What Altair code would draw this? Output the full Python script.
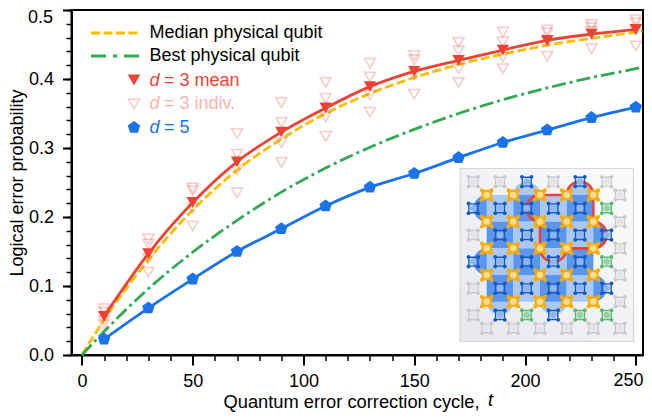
import math
import altair as alt
import pandas as pd

# ---- values ----
cycles = [10, 30, 50, 70, 90, 110, 130, 150, 170, 190, 210, 230, 250]
d3_mean = [.056, .147, .221, .280, .323, .358, .389, .411, .427, .442, .456, .465, .472]
d5_mean = [.023, .068, .110, .150, .183, .216, .243, .263, .286, .308, .326, .344, .359]
d3_a = [.067, .168, .242, .321, .366, .395, .423, .434, .453, .468, .471, .479, .486]
d3_b = [.062, .161, .238, .291, .337, .372, .403, .428, .441, .454, .467, .474, .481]
d3_c = [.050, .140, .213, .268, .308, .345, .377, .406, .415, .432, .454, .469, .471]
d3_d = [.044, .120, .187, .235, .279, .317, .352, .378, .395, .415, .433, .444, .448]
curve_t = [0, 10, 30, 50, 70, 90, 110, 130, 150, 170, 190, 210, 230, 250, 253]
median_q = [0, .051, .138, .210, .268, .313, .350, .379, .402, .421, .436, .449, .459, .468, .4695]
best_q = [0, .034, .096, .149, .195, .236, .271, .301, .327, .350, .370, .387, .402, .415, .417]

RED, BLUE, YELLOW, GREEN = "#EA4335", "#1A73E8", "#FBBC04", "#34A853"
PALE = "#F9B4AE"
FONT = "Liberation Sans"
FS = 18

# qubit lattice of the inset: (column, row); data qubits on integers, measure on half-integers
data_q = [(c, r) for r in range(5) for c in range(5)]
blue_q = [(1.5, -.5), (3.5, -.5),
          (-.5, .5), (.5, .5), (1.5, .5), (2.5, .5), (3.5, .5),
          (.5, 1.5), (1.5, 1.5), (2.5, 1.5), (3.5, 1.5), (4.5, 1.5),
          (-.5, 2.5), (.5, 2.5), (1.5, 2.5), (2.5, 2.5), (3.5, 2.5),
          (.5, 3.5), (1.5, 3.5), (2.5, 3.5), (3.5, 3.5), (4.5, 3.5),
          (.5, 4.5), (2.5, 4.5)]
green_q = [(4.5, .5), (4.5, 2.5), (1.5, 4.5), (3.5, 4.5), (4.5, 4.5)]
grey_q = [(-.5, -.5), (.5, -.5), (2.5, -.5), (4.5, -.5),
          (-.5, 1.5), (-.5, 3.5), (-.5, 4.5),
          (5, 0), (5, 1), (5, 2), (5, 3), (5, 4), (5, 5),
          (0, 5), (1, 5), (2, 5), (3, 5), (4, 5)]
bumps_light = [(1.5, 0), (3.5, 0), (.5, 4), (2.5, 4)]
bumps_dark = [(0, .5), (0, 2.5), (4, 1.5), (4, 3.5)]

# ---- geometry ----
W, H = 571.5, 345
XD = [-4.7, 253.24]
YD = [0, .5]
def X(px): return XD[0] + (px - 71.5) / W * (XD[1] - XD[0])
def Y(py): return YD[1] - (py - 10) / H * (YD[1] - YD[0])
CELL = 26.67
def GX(c): return X(486.67 + c * CELL)
def GY(r): return Y(195 + r * CELL)

xs = alt.Scale(domain=XD, nice=False, zero=False)
ys = alt.Scale(domain=YD, nice=False, zero=False)
ex = alt.X("x:Q", scale=xs, axis=None)
ey = alt.Y("y:Q", scale=ys, axis=None)

def frame(xv, yv, **kw):
    return pd.DataFrame({"x": xv, "y": yv, **kw})

layers = []

# axes
ax_layer = alt.Chart(frame([0], [0])).mark_point(opacity=0)
layers.append(ax_layer.encode(
    x=alt.X("x:Q", scale=xs, axis=alt.Axis(
        values=[0, 50, 100, 150, 200, 250], orient="bottom", title="Quantum error correction cycle,",
        labelExpr="datum.value > 240 ? '' : format(datum.value, 'd')",
        titleX=151.5, titleY=52, titleAlign="left", titleBaseline="alphabetic", titleFont=FONT, titleFontSize=18.3,
        titleFontWeight="normal", titleColor="black", labelFont=FONT, labelFontSize=FS, labelColor="black",
        labelPadding=7, tickSize=10, tickWidth=2, tickColor="black", domainWidth=2, domainColor="black",
        grid=False, labelFlush=False)),
    y=alt.Y("y:Q", scale=ys, axis=alt.Axis(
        values=[0, .1, .2, .3, .4, .5], orient="left", title="Logical error probability",
        labelExpr="datum.value > 0.45 ? '' : format(datum.value, '.1f')",
        titleFont=FONT, titleFontSize=FS, titleFontWeight="normal", titleColor="black", titleX=-45,
        labelFont=FONT, labelFontSize=FS, labelColor="black", labelPadding=9,
        tickSize=9, tickWidth=2, tickColor="black", domainWidth=2, domainColor="black", grid=False))))
layers.append(ax_layer.encode(
    x=alt.X("x:Q", scale=xs, axis=alt.Axis(
        values=list(range(0, 251, 10)), orient="bottom", labels=False, title=None, domain=False,
        tickSize=5.5, tickWidth=1.5, tickColor="black", grid=False)),
    y=alt.Y("y:Q", scale=ys, axis=alt.Axis(
        values=[i / 50 for i in range(26)], orient="left", labels=False, title=None, domain=False,
        tickSize=5.5, tickWidth=1.5, tickColor="black", grid=False))))

# curves
layers.append(alt.Chart(frame(curve_t, median_q)).mark_line(
    color=YELLOW, strokeWidth=2.8, strokeDash=[9, 3.5], interpolate="monotone").encode(x=ex, y=ey))
layers.append(alt.Chart(frame(curve_t, best_q)).mark_line(
    color=GREEN, strokeWidth=2.8, strokeDash=[14, 4, 3, 4], interpolate="monotone").encode(x=ex, y=ey))
layers.append(alt.Chart(frame(cycles, d3_mean)).mark_line(
    color=RED, strokeWidth=2.8, interpolate="monotone").encode(x=ex, y=ey))
layers.append(alt.Chart(frame(cycles, d5_mean)).mark_line(
    color=BLUE, strokeWidth=2.8, interpolate="monotone").encode(x=ex, y=ey))

# individual points
indiv = pd.concat([frame(cycles, s) for s in (d3_a, d3_b, d3_c, d3_d)])
layers.append(alt.Chart(indiv).mark_point(
    shape="triangle-down", filled=False, stroke=RED, strokeOpacity=.4, strokeWidth=1.5, size=120).encode(x=ex, y=ey))
layers.append(alt.Chart(frame(cycles, d3_mean)).mark_point(
    shape="triangle-down", filled=True, fill=RED, stroke=RED, strokeWidth=0, opacity=1, size=155).encode(x=ex, y=ey))
PENT = "M0,-1.05L1,-0.32L0.62,0.85L-0.62,0.85L-1,-0.32Z"
layers.append(alt.Chart(frame(cycles, d5_mean)).mark_point(
    shape=PENT, filled=True, fill=BLUE, opacity=1, size=155).encode(x=ex, y=ey))

# legend
LX0, LX1, MX = X(91), X(139), X(134)
layers.append(alt.Chart(frame([LX0, LX1], [Y(33)] * 2)).mark_line(
    color=YELLOW, strokeWidth=2.8, strokeDash=[9, 3.5]).encode(x=ex, y=ey))
layers.append(alt.Chart(frame([LX0, LX1], [Y(56)] * 2)).mark_line(
    color=GREEN, strokeWidth=2.8, strokeDash=[15, 7, 4, 7]).encode(x=ex, y=ey))
layers.append(alt.Chart(frame([MX], [Y(80)])).mark_point(
    shape="triangle-down", filled=True, fill=RED, opacity=1, size=155).encode(x=ex, y=ey))
layers.append(alt.Chart(frame([MX], [Y(104)])).mark_point(
    shape="triangle-down", filled=False, stroke=RED, strokeOpacity=.4, strokeWidth=1.5, size=120).encode(x=ex, y=ey))
layers.append(alt.Chart(frame([MX], [Y(127.5)])).mark_point(
    shape=PENT, filled=True, fill=BLUE, opacity=1, size=155).encode(x=ex, y=ey))

def txt(px, py, s, color="black", italic=False, align="left"):
    return alt.Chart(frame([X(px)], [Y(py)], s=[s])).mark_text(
        font=FONT, fontSize=FS, align=align, baseline="middle", color=color,
        fontStyle="italic" if italic else "normal").encode(x=ex, y=ey, text="s:N")

layers += [txt(149.5, 33, "Median physical qubit"), txt(149.5, 56, "Best physical qubit")]
for py, col, tail in [(80.5, RED, "= 3 mean"), (104, PALE, "= 3 indiv."), (128, BLUE, "= 5")]:
    layers += [txt(149.5, py, "d", col, True), txt(164, py, tail, col)]
layers.append(txt(488, 401, "t", italic=True))
layers.append(txt(53, 17.5, "0.5", align="right"))
layers.append(txt(643.5, 381, "250", align="right"))

# inset panel
panel = pd.DataFrame({"x": [X(460)], "x2": [X(633.5)], "y": [Y(168.5)], "y2": [Y(341.5)]})
layers.append(alt.Chart(panel).mark_rect(
    fill=alt.Gradient(gradient="linear", x1=0, y1=1, x2=1, y2=0,
                      stops=[alt.GradientStop(color="#E6E8EC", offset=0),
                             alt.GradientStop(color="#FBFBFC", offset=1)]),
    stroke="#D6D7D9", strokeWidth=1.2).encode(x=ex, x2="x2:Q", y=ey, y2="y2:Q"))

DARK_C, LIGHT_C = "#5B95EE", "#AAC8F6"
BUMP = CELL ** 2
for pts, col in ((bumps_light, LIGHT_C), (bumps_dark, DARK_C)):
    layers.append(alt.Chart(frame([GX(c) for c, r in pts], [GY(r) for c, r in pts])).mark_point(
        shape="circle", filled=True, fill=col, opacity=1, size=BUMP).encode(x=ex, y=ey))

cells = []
for r in range(4):
    for c in range(4):
        cells.append({"x": GX(c), "x2": GX(c + 1), "y": GY(r), "y2": GY(r + 1),
                      "k": DARK_C if (r + c) % 2 else LIGHT_C})
layers.append(alt.Chart(pd.DataFrame(cells)).mark_rect(strokeWidth=0).encode(
    x=ex, x2="x2:Q", y=ey, y2="y2:Q", fill=alt.Fill("k:N", scale=None)))

# red outline of the d = 3 patch
path = []
def arc(cx, cy, a0, a1):
    for i in range(17):
        a = math.radians(a0 + (a1 - a0) * i / 16)
        path.append((cx + .5 * math.cos(a), cy + .5 * math.sin(a)))
path.append((2, 0)); path.append((3, 0))
arc(3.5, 0, 180, 360)
path.append((4, 1))
arc(4, 1.5, -90, 90)
path.append((3, 2))
arc(2.5, 2, 0, 180)
path.append((2, 1))
arc(2, .5, 90, 270)
red = frame([GX(c) for c, r in path], [GY(r) for c, r in path], o=list(range(len(path))))
layers.append(alt.Chart(red).mark_line(color=RED, strokeWidth=2.6, strokeJoin="round").encode(
    x=ex, y=ey, order="o:Q"))

# qubits
Q = 4.8 / CELL
def qubit(pts, edge, inner, solid=False):
    xx = [GX(c) for c, r in pts]
    yy = [GY(r) for c, r in pts]
    out = []
    sq = alt.Chart(frame(xx, yy)).mark_point(
        shape="square", filled=True, fill=edge, stroke=edge, strokeWidth=1.4, opacity=1, size=80
    ) if solid else alt.Chart(frame(xx, yy)).mark_point(
        shape="square", filled=False, stroke=edge, strokeWidth=1.4, opacity=1, size=80)
    out.append(sq.encode(x=ex, y=ey))
    cx = [GX(c + a) for c, r in pts for a in (-Q, Q) for b in (-Q, Q)]
    cy = [GY(r + b) for c, r in pts for a in (-Q, Q) for b in (-Q, Q)]
    out.append(alt.Chart(frame(cx, cy)).mark_point(
        shape="circle", filled=True, fill=edge, opacity=1, size=15).encode(x=ex, y=ey))
    out.append(alt.Chart(frame(xx, yy)).mark_point(
        shape="circle", filled=True, fill=inner, opacity=1, size=44).encode(x=ex, y=ey))
    return out

layers += qubit(grey_q, "#C9CACC", "#E3E4E7")
layers += qubit(green_q, "#5BB974", "#95D3A5")
layers += qubit(blue_q, "#185ABC", "#8FB6F0")
layers += qubit(data_q, "#F9AB00", "#FDDC8C", solid=True)

chart = alt.layer(*layers).resolve_axis(x="independent", y="independent").properties(
    width=W, height=H,
    autosize=alt.AutoSizeParams(type="none"),
    padding={"left": 63.5, "top": 2, "right": 1, "bottom": 57},
).configure_view(stroke="black", strokeWidth=2)

chart.save("out.html", embed_options={"renderer": "svg", "actions": False})
